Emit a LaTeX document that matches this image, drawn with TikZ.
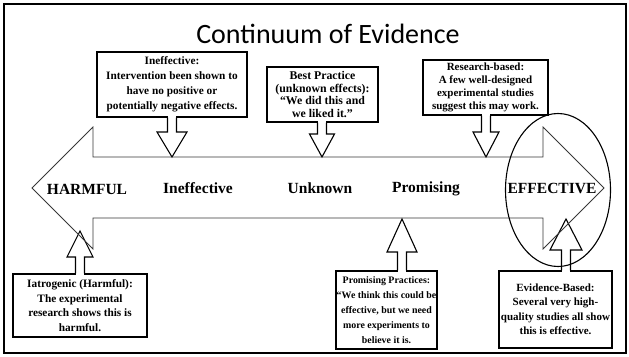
\documentclass[tikz,border=0pt]{standalone}
\usepackage{fontspec}
\setmainfont{Liberation Serif}
\newfontfamily\titlefont{Carlito}
\usepackage{tikz}
\usetikzlibrary{calc,shapes.geometric}
\definecolor{arrowgray}{RGB}{55,55,55}

\begin{document}
\begin{tikzpicture}[
    x=1pt, y=-1pt,
    title/.style={font=\titlefont\fontsize{28}{32}\selectfont, inner sep=0pt},
    callbox/.style={rectangle, draw=black, line width=1.1pt, fill=white, align=center, inner sep=0pt},
    callline/.style={draw=black, line width=1.1pt, line join=miter},
    scale-arrow/.style={draw=arrowgray, line width=0.8pt, line join=miter},
    level/.style={font=\bfseries\fontsize{15.5}{18}\selectfont, inner sep=0pt, anchor=base},
    ring/.style={ellipse, draw=black, line width=1.1pt, inner sep=0pt},
    frame/.style={draw=black, line width=2pt}
]
\useasboundingbox (0,0) rectangle (629,356);
\draw[frame] (4,4) rectangle (626,353);

% ============ title ============
\node[title, anchor=base] (title) at (328,43) {Continuum of Evidence};

% ============ callout boxes ============
\node[callbox, minimum width=150, minimum height=65, font=\bfseries\fontsize{11.3}{15}\selectfont] (ineff-box) at (172,84.5)
    {Ineffective:\\Intervention been shown to\\have no positive or\\potentially negative effects.};
\node[callbox, minimum width=111, minimum height=55, font=\bfseries\fontsize{11.8}{12.8}\selectfont] (best-box) at (322.5,94.5)
    {Best Practice\\(unknown effects):\\“We did this and\\we liked it.”};
\node[callbox, minimum width=125, minimum height=55, font=\bfseries\fontsize{11}{12.8}\selectfont] (research-box) at (485.5,87.5)
    {Research-based:\\A few well-designed\\experimental studies\\suggest this may work.};
\node[callbox, minimum width=134, minimum height=63, font=\bfseries\fontsize{11.3}{14.5}\selectfont] (iatro-box) at (80,305.5)
    {Iatrogenic (Harmful):\\The experimental\\research shows this is\\harmful.};
\node[callbox, minimum width=101, minimum height=78, font=\bfseries\fontsize{9.9}{15}\selectfont] (prom-box) at (386.5,310)
    {Promising Practices:\\“We think this could be\\effective, but we need\\more experiments to\\believe it is.};
\node[callbox, minimum width=113, minimum height=77, font=\bfseries\fontsize{11}{14.5}\selectfont] (evid-box) at (555.5,309.5)
    {Evidence-Based:\\Several very high-\\quality studies all show\\this is effective.};

% tips of the callout arrows on the scale
\coordinate (ineff-tip) at (172,157);
\coordinate (best-tip) at (322,157);
\coordinate (research-tip) at (486,157);
\coordinate (iatro-tip) at (80,231);
\coordinate (prom-tip) at (402,219);
\coordinate (evid-tip) at (566,219);

\foreach \b/\a/\h/\w in {ineff/south/-25/15, best/south/-23/12.5, research/south/-25/13,
                         iatro/north/26/13, prom/north/33/15, evid/north/31/16}{
    \fill[white] ($(\b-tip |- \b-box.\a)+(-4,-1.5)$) rectangle ($(\b-tip |- \b-box.\a)+(4,1.5)$);
    \draw[callline] ($(\b-tip |- \b-box.\a)+(-4.5,0)$) -- ($(\b-tip)+(-4.5,\h)$) -- ($(\b-tip)+(-\w,\h)$)
        -- (\b-tip) -- ($(\b-tip)+(\w,\h)$) -- ($(\b-tip)+(4.5,\h)$) -- ($(\b-tip |- \b-box.\a)+(4.5,0)$);
}

% ============ scale ============
\draw[scale-arrow] (32,188) -- (93,127) -- (93,157) -- (543,157) -- (543,127) -- (604,188)
    -- (543,249) -- (543,218) -- (93,218) -- (93,249) -- cycle;

\node[level] (harmful) at (87,194) {HARMFUL};
\node[level] (ineffective) at (198,193) {Ineffective};
\node[level] (unknown) at (320,193) {Unknown};
\node[level] (promising) at (426,192) {Promising};
\node[level] (effective) at (552,193) {EFFECTIVE};

\node[ring, minimum width=105, minimum height=153] (eff-ring) at (558,190) {};

\end{tikzpicture}
\end{document}
